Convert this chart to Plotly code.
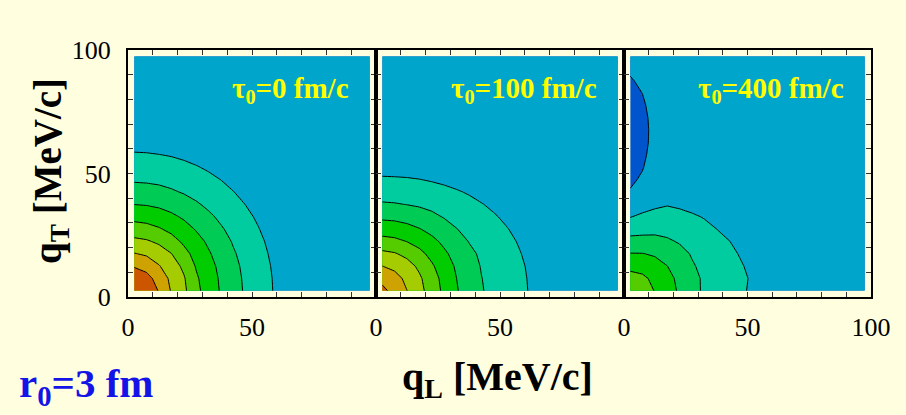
import plotly.graph_objects as go

# grid of qL / qT values (MeV/c)
q = [2.5, 7.5, 12.5, 17.5, 22.5, 27.5, 32.5, 37.5, 42.5, 47.5,
     52.5, 57.5, 62.5, 67.5, 72.5, 77.5, 82.5, 87.5, 92.5, 97.5]

# contour level index (rows = qT, columns = qL)
z_tau0 = [
    [7.9, 7.85, 6.92, 5.92, 5.21, 4.26, 3.53, 2.91, 2.37, 1.87, 1.47, 1.07, 0.67, 0.27, 0.2, 0.2, 0.2, 0.2, 0.2, 0.2],
    [7.71, 7.34, 6.61, 5.77, 5.1, 4.14, 3.46, 2.86, 2.32, 1.84, 1.45, 1.05, 0.65, 0.25, 0.2, 0.2, 0.2, 0.2, 0.2, 0.2],
    [6.92, 6.64, 6.06, 5.47, 4.8, 3.92, 3.32, 2.76, 2.23, 1.78, 1.39, 1.0, 0.61, 0.21, 0.2, 0.2, 0.2, 0.2, 0.2, 0.2],
    [6.05, 5.86, 5.49, 5.02, 4.32, 3.67, 3.1, 2.59, 2.09, 1.69, 1.31, 0.92, 0.54, 0.2, 0.2, 0.2, 0.2, 0.2, 0.2, 0.2],
    [5.24, 5.11, 4.83, 4.37, 3.83, 3.33, 2.84, 2.37, 1.92, 1.56, 1.19, 0.82, 0.44, 0.2, 0.2, 0.2, 0.2, 0.2, 0.2, 0.2],
    [4.45, 4.34, 4.09, 3.76, 3.37, 2.93, 2.52, 2.09, 1.74, 1.39, 1.04, 0.68, 0.32, 0.2, 0.2, 0.2, 0.2, 0.2, 0.2, 0.2],
    [3.7, 3.61, 3.44, 3.18, 2.87, 2.54, 2.16, 1.83, 1.52, 1.2, 0.87, 0.52, 0.2, 0.2, 0.2, 0.2, 0.2, 0.2, 0.2, 0.2],
    [2.99, 2.94, 2.82, 2.64, 2.39, 2.1, 1.83, 1.57, 1.29, 0.98, 0.67, 0.34, 0.2, 0.2, 0.2, 0.2, 0.2, 0.2, 0.2, 0.2],
    [2.41, 2.37, 2.27, 2.11, 1.93, 1.74, 1.53, 1.29, 1.02, 0.74, 0.44, 0.2, 0.2, 0.2, 0.2, 0.2, 0.2, 0.2, 0.2, 0.2],
    [1.89, 1.86, 1.8, 1.7, 1.57, 1.41, 1.21, 0.99, 0.74, 0.48, 0.2, 0.2, 0.2, 0.2, 0.2, 0.2, 0.2, 0.2, 0.2, 0.2],
    [1.49, 1.47, 1.41, 1.33, 1.21, 1.06, 0.88, 0.68, 0.45, 0.2, 0.2, 0.2, 0.2, 0.2, 0.2, 0.2, 0.2, 0.2, 0.2, 0.2],
    [1.09, 1.07, 1.02, 0.95, 0.84, 0.7, 0.54, 0.35, 0.2, 0.2, 0.2, 0.2, 0.2, 0.2, 0.2, 0.2, 0.2, 0.2, 0.2, 0.2],
    [0.7, 0.68, 0.63, 0.56, 0.46, 0.34, 0.2, 0.2, 0.2, 0.2, 0.2, 0.2, 0.2, 0.2, 0.2, 0.2, 0.2, 0.2, 0.2, 0.2],
    [0.3, 0.28, 0.24, 0.2, 0.2, 0.2, 0.2, 0.2, 0.2, 0.2, 0.2, 0.2, 0.2, 0.2, 0.2, 0.2, 0.2, 0.2, 0.2, 0.2],
    [0.2, 0.2, 0.2, 0.2, 0.2, 0.2, 0.2, 0.2, 0.2, 0.2, 0.2, 0.2, 0.2, 0.2, 0.2, 0.2, 0.2, 0.2, 0.2, 0.2],
    [0.2, 0.2, 0.2, 0.2, 0.2, 0.2, 0.2, 0.2, 0.2, 0.2, 0.2, 0.2, 0.2, 0.2, 0.2, 0.2, 0.2, 0.2, 0.2, 0.2],
    [0.2, 0.2, 0.2, 0.2, 0.2, 0.2, 0.2, 0.2, 0.2, 0.2, 0.2, 0.2, 0.2, 0.2, 0.2, 0.2, 0.2, 0.2, 0.2, 0.2],
    [0.2, 0.2, 0.2, 0.2, 0.2, 0.2, 0.2, 0.2, 0.2, 0.2, 0.2, 0.2, 0.2, 0.2, 0.2, 0.2, 0.2, 0.2, 0.2, 0.2],
    [0.2, 0.2, 0.2, 0.2, 0.2, 0.2, 0.2, 0.2, 0.2, 0.2, 0.2, 0.2, 0.2, 0.2, 0.2, 0.2, 0.2, 0.2, 0.2, 0.2],
    [0.2, 0.2, 0.2, 0.2, 0.2, 0.2, 0.2, 0.2, 0.2, 0.2, 0.2, 0.2, 0.2, 0.2, 0.2, 0.2, 0.2, 0.2, 0.2, 0.2],
]

z_tau100 = [
    [7.33, 6.58, 6.01, 5.3, 4.54, 3.78, 3.07, 2.55, 2.06, 1.76, 1.48, 1.2, 0.93, 0.65, 0.37, 0.2, 0.2, 0.2, 0.2, 0.2],
    [6.65, 6.31, 5.8, 5.15, 4.42, 3.69, 3.0, 2.51, 2.02, 1.73, 1.46, 1.18, 0.91, 0.63, 0.36, 0.2, 0.2, 0.2, 0.2, 0.2],
    [6.01, 5.79, 5.37, 4.81, 4.13, 3.48, 2.87, 2.4, 1.95, 1.68, 1.41, 1.14, 0.87, 0.59, 0.32, 0.2, 0.2, 0.2, 0.2, 0.2],
    [5.23, 5.08, 4.75, 4.26, 3.72, 3.16, 2.67, 2.21, 1.86, 1.59, 1.33, 1.06, 0.79, 0.53, 0.26, 0.2, 0.2, 0.2, 0.2, 0.2],
    [4.34, 4.23, 3.98, 3.66, 3.24, 2.8, 2.38, 1.97, 1.72, 1.46, 1.21, 0.95, 0.69, 0.43, 0.2, 0.2, 0.2, 0.2, 0.2, 0.2],
    [3.54, 3.47, 3.3, 3.04, 2.73, 2.39, 2.02, 1.78, 1.54, 1.29, 1.05, 0.8, 0.55, 0.3, 0.2, 0.2, 0.2, 0.2, 0.2, 0.2],
    [2.81, 2.76, 2.63, 2.44, 2.2, 1.94, 1.74, 1.53, 1.31, 1.08, 0.85, 0.62, 0.38, 0.2, 0.2, 0.2, 0.2, 0.2, 0.2, 0.2],
    [2.1, 2.06, 1.98, 1.88, 1.75, 1.6, 1.43, 1.24, 1.04, 0.84, 0.62, 0.4, 0.2, 0.2, 0.2, 0.2, 0.2, 0.2, 0.2, 0.2],
    [1.6, 1.58, 1.53, 1.45, 1.35, 1.22, 1.08, 0.92, 0.74, 0.55, 0.36, 0.2, 0.2, 0.2, 0.2, 0.2, 0.2, 0.2, 0.2, 0.2],
    [1.13, 1.11, 1.08, 1.02, 0.93, 0.83, 0.7, 0.56, 0.41, 0.24, 0.2, 0.2, 0.2, 0.2, 0.2, 0.2, 0.2, 0.2, 0.2, 0.2],
    [0.66, 0.65, 0.62, 0.57, 0.5, 0.41, 0.31, 0.2, 0.2, 0.2, 0.2, 0.2, 0.2, 0.2, 0.2, 0.2, 0.2, 0.2, 0.2, 0.2],
    [0.2, 0.2, 0.2, 0.2, 0.2, 0.2, 0.2, 0.2, 0.2, 0.2, 0.2, 0.2, 0.2, 0.2, 0.2, 0.2, 0.2, 0.2, 0.2, 0.2],
    [0.2, 0.2, 0.2, 0.2, 0.2, 0.2, 0.2, 0.2, 0.2, 0.2, 0.2, 0.2, 0.2, 0.2, 0.2, 0.2, 0.2, 0.2, 0.2, 0.2],
    [0.2, 0.2, 0.2, 0.2, 0.2, 0.2, 0.2, 0.2, 0.2, 0.2, 0.2, 0.2, 0.2, 0.2, 0.2, 0.2, 0.2, 0.2, 0.2, 0.2],
    [0.2, 0.2, 0.2, 0.2, 0.2, 0.2, 0.2, 0.2, 0.2, 0.2, 0.2, 0.2, 0.2, 0.2, 0.2, 0.2, 0.2, 0.2, 0.2, 0.2],
    [0.2, 0.2, 0.2, 0.2, 0.2, 0.2, 0.2, 0.2, 0.2, 0.2, 0.2, 0.2, 0.2, 0.2, 0.2, 0.2, 0.2, 0.2, 0.2, 0.2],
    [0.2, 0.2, 0.2, 0.2, 0.2, 0.2, 0.2, 0.2, 0.2, 0.2, 0.2, 0.2, 0.2, 0.2, 0.2, 0.2, 0.2, 0.2, 0.2, 0.2],
    [0.2, 0.2, 0.2, 0.2, 0.2, 0.2, 0.2, 0.2, 0.2, 0.2, 0.2, 0.2, 0.2, 0.2, 0.2, 0.2, 0.2, 0.2, 0.2, 0.2],
    [0.2, 0.2, 0.2, 0.2, 0.2, 0.2, 0.2, 0.2, 0.2, 0.2, 0.2, 0.2, 0.2, 0.2, 0.2, 0.2, 0.2, 0.2, 0.2, 0.2],
    [0.2, 0.2, 0.2, 0.2, 0.2, 0.2, 0.2, 0.2, 0.2, 0.2, 0.2, 0.2, 0.2, 0.2, 0.2, 0.2, 0.2, 0.2, 0.2, 0.2],
]

z_tau400 = [
    [4.9, 4.47, 3.96, 3.42, 2.86, 2.29, 1.87, 1.62, 1.36, 1.11, 0.85, 0.59, 0.5, 0.5, 0.5, 0.5, 0.5, 0.5, 0.5, 0.5],
    [4.38, 4.18, 3.78, 3.29, 2.78, 2.26, 1.87, 1.62, 1.37, 1.13, 0.89, 0.64, 0.5, 0.5, 0.5, 0.5, 0.5, 0.5, 0.5, 0.5],
    [3.73, 3.67, 3.4, 3.01, 2.58, 2.09, 1.79, 1.54, 1.3, 1.05, 0.81, 0.56, 0.5, 0.5, 0.5, 0.5, 0.5, 0.5, 0.5, 0.5],
    [3.04, 3.03, 2.88, 2.63, 2.28, 1.93, 1.67, 1.42, 1.17, 0.93, 0.7, 0.5, 0.5, 0.5, 0.5, 0.5, 0.5, 0.5, 0.5, 0.5],
    [2.3, 2.3, 2.27, 2.13, 1.92, 1.71, 1.48, 1.24, 1.02, 0.79, 0.54, 0.5, 0.5, 0.5, 0.5, 0.5, 0.5, 0.5, 0.5, 0.5],
    [1.62, 1.71, 1.76, 1.71, 1.6, 1.44, 1.22, 1.0, 0.78, 0.58, 0.5, 0.5, 0.5, 0.5, 0.5, 0.5, 0.5, 0.5, 0.5, 0.5],
    [0.96, 1.18, 1.32, 1.34, 1.23, 1.11, 0.95, 0.74, 0.52, 0.5, 0.5, 0.5, 0.5, 0.5, 0.5, 0.5, 0.5, 0.5, 0.5, 0.5],
    [0.28, 0.61, 0.82, 0.95, 0.87, 0.74, 0.63, 0.5, 0.5, 0.5, 0.5, 0.5, 0.5, 0.5, 0.5, 0.5, 0.5, 0.5, 0.5, 0.5],
    [0.06, 0.28, 0.5, 0.5, 0.52, 0.5, 0.5, 0.5, 0.5, 0.5, 0.5, 0.5, 0.5, 0.5, 0.5, 0.5, 0.5, 0.5, 0.5, 0.5],
    [-0.14, 0.11, 0.5, 0.5, 0.5, 0.5, 0.5, 0.5, 0.5, 0.5, 0.5, 0.5, 0.5, 0.5, 0.5, 0.5, 0.5, 0.5, 0.5, 0.5],
    [-0.34, -0.04, 0.39, 0.5, 0.5, 0.5, 0.5, 0.5, 0.5, 0.5, 0.5, 0.5, 0.5, 0.5, 0.5, 0.5, 0.5, 0.5, 0.5, 0.5],
    [-0.53, -0.15, 0.31, 0.5, 0.5, 0.5, 0.5, 0.5, 0.5, 0.5, 0.5, 0.5, 0.5, 0.5, 0.5, 0.5, 0.5, 0.5, 0.5, 0.5],
    [-0.6, -0.23, 0.26, 0.5, 0.5, 0.5, 0.5, 0.5, 0.5, 0.5, 0.5, 0.5, 0.5, 0.5, 0.5, 0.5, 0.5, 0.5, 0.5, 0.5],
    [-0.6, -0.25, 0.25, 0.5, 0.5, 0.5, 0.5, 0.5, 0.5, 0.5, 0.5, 0.5, 0.5, 0.5, 0.5, 0.5, 0.5, 0.5, 0.5, 0.5],
    [-0.6, -0.21, 0.27, 0.5, 0.5, 0.5, 0.5, 0.5, 0.5, 0.5, 0.5, 0.5, 0.5, 0.5, 0.5, 0.5, 0.5, 0.5, 0.5, 0.5],
    [-0.48, -0.12, 0.33, 0.5, 0.5, 0.5, 0.5, 0.5, 0.5, 0.5, 0.5, 0.5, 0.5, 0.5, 0.5, 0.5, 0.5, 0.5, 0.5, 0.5],
    [-0.28, 0.01, 0.42, 0.5, 0.5, 0.5, 0.5, 0.5, 0.5, 0.5, 0.5, 0.5, 0.5, 0.5, 0.5, 0.5, 0.5, 0.5, 0.5, 0.5],
    [-0.08, 0.16, 0.5, 0.5, 0.5, 0.5, 0.5, 0.5, 0.5, 0.5, 0.5, 0.5, 0.5, 0.5, 0.5, 0.5, 0.5, 0.5, 0.5, 0.5],
    [0.13, 0.33, 0.5, 0.5, 0.5, 0.5, 0.5, 0.5, 0.5, 0.5, 0.5, 0.5, 0.5, 0.5, 0.5, 0.5, 0.5, 0.5, 0.5, 0.5],
    [0.34, 0.5, 0.5, 0.5, 0.5, 0.5, 0.5, 0.5, 0.5, 0.5, 0.5, 0.5, 0.5, 0.5, 0.5, 0.5, 0.5, 0.5, 0.5, 0.5],
]

panel_labels = ["τ<sub>0</sub>=0 fm/c", "τ<sub>0</sub>=100 fm/c", "τ<sub>0</sub>=400 fm/c"]
tick_vals = [0, 10, 20, 30, 40, 50, 60, 70, 80, 90, 100]
x_text_inner = ["0", "", "", "", "", "50", "", "", "", "", ""]
x_text_last = ["0", "", "", "", "", "50", "", "", "", "", "100"]
y_text = ["0", "", "", "", "", "50", "", "", "", "", "100"]

band_colors = ["rgb(0,85,204)", "rgb(0,165,204)", "rgb(0,204,160)", "rgb(0,204,85)",
               "rgb(0,204,0)", "rgb(85,204,0)", "rgb(165,204,0)", "rgb(206,162,0)", "rgb(204,85,0)"]
colorscale = [[i / (len(band_colors) - 1), c] for i, c in enumerate(band_colors)]

SERIF = "Liberation Serif"
CREAM = "#FFFFE0"

fig = go.Figure()
domains = [[0.0, 0.3338], [0.3338, 0.6676], [0.6676, 1.0]]
for k, z in enumerate([z_tau0, z_tau100, z_tau400]):
    sx = "" if k == 0 else str(k + 1)
    fig.add_trace(go.Contour(
        x=q, y=q, z=z, xaxis="x" + sx, yaxis="y" + sx,
        colorscale=colorscale, showscale=False, autocontour=False,
        contours=dict(start=0, end=7, size=1, coloring="fill"),
        line=dict(color="black", width=1, smoothing=0), hoverinfo="skip"))

axis_common = dict(range=[0, 100], showline=True, linecolor="black", linewidth=2,
                   mirror="ticks", ticks="inside", ticklen=5, tickwidth=1, tickcolor="#333",
                   tickmode="array", tickvals=tick_vals, showgrid=False, zeroline=False,
                   automargin=False,
                   tickfont=dict(family=SERIF, size=26, color="black"))
layout = dict(width=906, height=415, paper_bgcolor=CREAM, plot_bgcolor=CREAM,
              margin=dict(l=128, r=35, t=50, b=118), showlegend=False)
for k in range(3):
    sx = "" if k == 0 else str(k + 1)
    xa = dict(axis_common, domain=domains[k], anchor="y" + sx,
              ticktext=x_text_last if k == 2 else x_text_inner, ticklabelstandoff=6)
    ya = dict(axis_common, domain=[0, 1], anchor="x" + sx, ticktext=y_text,
              showticklabels=(k == 0), ticklabelstandoff=10)
    layout["xaxis" + sx] = xa
    layout["yaxis" + sx] = ya
fig.update_layout(**layout)

for k, lab in enumerate(panel_labels):
    sx = "" if k == 0 else str(k + 1)
    fig.add_annotation(x=90, y=84, xref="x" + sx, yref="y" + sx, xanchor="right", yanchor="middle",
                       text="<b>" + lab + "</b>", showarrow=False,
                       font=dict(family=SERIF, size=29, color="#FFFF00"))

fig.add_annotation(x=0.497, y=-0.33, xref="paper", yref="paper", xanchor="center", yanchor="middle",
                   text="<b>q<sub>L</sub> [MeV/c]</b>", showarrow=False,
                   font=dict(family=SERIF, size=40, color="black"))
fig.add_annotation(x=-0.105, y=0.51, xref="paper", yref="paper", xanchor="center", yanchor="middle",
                   text="<b>q<sub>T</sub> [MeV/c]</b>", textangle=-90, showarrow=False,
                   font=dict(family=SERIF, size=39, color="black"))
fig.add_annotation(x=-0.149, y=-0.36, xref="paper", yref="paper", xanchor="left", yanchor="middle",
                   text="<b>r<sub>0</sub>=3 fm</b>", showarrow=False,
                   font=dict(family=SERIF, size=41, color="#1414E6"))

fig.write_html("out.html", config={"displayModeBar": False},
               post_script="document.body.style.margin='0';document.body.style.padding='0';")
